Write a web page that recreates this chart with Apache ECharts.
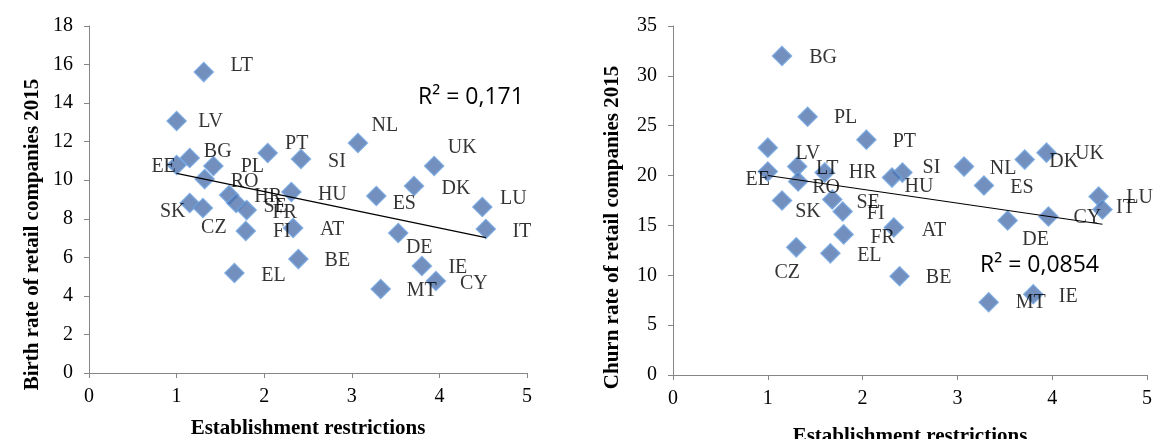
<!DOCTYPE html>
<html>
<head>
<meta charset="utf-8">
<script src="https://cdn.jsdelivr.net/npm/echarts@6/dist/echarts.min.js"></script>
<style>html,body{margin:0;padding:0;background:#fff}#c{width:1155px;height:439px}</style>
</head>
<body>
<div id="c"></div>
<script>
// ---- data ----
const countries = ['LT','LV','BG','PL','EE','RO','PT','SI','NL','HR','SE','FR','SK','CZ','HU','ES','DK','UK','LU','IT','FI','AT','DE','BE','EL','IE','CY','MT'];
const restrictions = [1.31,1.00,1.15,1.42,1.00,1.32,2.04,2.42,3.07,1.60,1.68,1.80,1.15,1.30,2.31,3.28,3.71,3.94,4.49,4.53,1.79,2.33,3.53,2.39,1.66,3.80,3.96,3.33];
const birthRate = [15.61,13.07,11.15,10.74,10.79,10.06,11.41,11.10,11.93,9.23,8.82,8.45,8.82,8.56,9.39,9.18,9.70,10.74,8.61,7.47,7.37,7.52,7.26,5.91,5.19,5.55,4.77,4.36];
const churnRate = [20.9,22.8,32.0,25.9,20.4,19.4,23.6,20.3,20.9,20.3,17.6,14.1,17.5,12.8,19.8,19.0,21.6,22.3,17.9,16.6,16.4,14.8,15.5,9.9,12.2,8.1,15.9,7.3];
const xTicks = [0,1,2,3,4,5];
const birthTicks = [0,2,4,6,8,10,12,14,16,18];
const churnTicks = [0,5,10,15,20,25,30,35];
const r2Birth = 'R² = 0,171';
const r2Churn = 'R² = 0,0854';

// ---- label placement (style only) ----
const offBirth = {LT:[38,-6],LV:[34,1],BG:[28,-6],PL:[39,1],EE:[-13,2],RO:[40,3],PT:[29,-9],SI:[36,3],NL:[27,-17],HR:[39,2],SE:[39,4],FR:[38,3],SK:[-17,9],CZ:[11,20],HU:[41,3],ES:[28,8],DK:[42,3],UK:[28,-18],LU:[31,-8],IT:[36,3],FI:[36,1],AT:[39,2],DE:[21,15],BE:[39,2],EL:[39,3],IE:[36,2],CY:[38,3],MT:[41,2]};
const offChurn = {BG:[41,2],PL:[38,1],PT:[38,2],LV:[40,6],EE:[-10,8],LT:[30,2],RO:[28,6],HR:[38,0],HU:[27,9],SI:[29,-5],SK:[26,11],SE:[36,3],FI:[33,2],FR:[39,3],EL:[39,2],CZ:[-9,25],AT:[40,3],BE:[39,1],MT:[42,1],IE:[35,3],DE:[28,19],NL:[39,2],ES:[38,2],DK:[39,2],UK:[43,1],LU:[41,1],IT:[23,-2],CY:[39,1]};

function pts(ys, offs){
  return countries.map((c,i)=>({value:[restrictions[i], ys[i]], name:c, label:{offset:offs[c]}}));
}
function trend(ys){
  const n = restrictions.length;
  let sx=0,sy=0,sxx=0,sxy=0;
  for(let i=0;i<n;i++){sx+=restrictions[i];sy+=ys[i];sxx+=restrictions[i]*restrictions[i];sxy+=restrictions[i]*ys[i];}
  const b=(n*sxy-sx*sy)/(n*sxx-sx*sx), a=(sy-b*sx)/n;
  const mn=Math.min(...restrictions), mx=Math.max(...restrictions);
  return [[mn,a+b*mn],[mx,a+b*mx]];
}

const serif = '"Liberation Serif","Times New Roman",serif';
const axisCol = '#868686';
function xAx(idx, gap){
  return {gridIndex:idx, type:'value', min:xTicks[0], max:xTicks[xTicks.length-1], interval:1,
    name:'Establishment restrictions', nameLocation:'middle', nameGap:gap,
    nameTextStyle:{fontFamily:serif, fontWeight:'bold', fontSize:21, color:'#000'},
    axisLine:{show:true, onZero:false, lineStyle:{color:axisCol}}, axisTick:{show:true, length:5, lineStyle:{color:axisCol}},
    axisLabel:{fontFamily:serif, fontSize:20, color:'#000', margin:14}, splitLine:{show:false}};
}
function yAx(idx, ticks, name, gap, pad){
  return {gridIndex:idx, type:'value', min:ticks[0], max:ticks[ticks.length-1], interval:ticks[1]-ticks[0],
    name:name, nameLocation:'middle', nameGap:gap,
    nameTextStyle:{fontFamily:serif, fontWeight:'bold', fontSize:21, color:'#000', padding:[0,pad,0,0]},
    axisLine:{show:true, lineStyle:{color:axisCol}}, axisTick:{show:true, length:5, lineStyle:{color:axisCol}},
    axisLabel:{fontFamily:serif, fontSize:20, color:'#000', margin:16}, splitLine:{show:false}};
}
const markerStyle = {color:'#4F73AE', borderColor:'#6FA3DE', borderWidth:1.5};
const lbl = {show:true, position:'inside', formatter:p=>p.name, fontFamily:serif, fontSize:20, color:'#000'};

const chart = echarts.init(document.getElementById('c'));
chart.setOption({
  animation:false,
  grid:[{left:89, top:26, width:438, height:347, outerBoundsMode:'none', containLabel:false},
        {left:673, top:26, width:474, height:349, outerBoundsMode:'none', containLabel:false}],
  xAxis:[xAx(0,45), xAx(1,51)],
  yAxis:[yAx(0,birthTicks,'Birth rate of retail companies 2015',46,70), yAx(1,churnTicks,'Churn rate of retail companies 2015',50,54)],
  series:[
    {type:'line', xAxisIndex:0, yAxisIndex:0, data:trend(birthRate), symbol:'none', lineStyle:{color:'#000', width:1.2}, z:3},
    {type:'line', xAxisIndex:1, yAxisIndex:1, data:trend(churnRate), symbol:'none', lineStyle:{color:'#000', width:1.2}, z:3},
    {type:'scatter', xAxisIndex:0, yAxisIndex:0, symbol:'diamond', symbolSize:19, itemStyle:markerStyle, label:lbl, data:pts(birthRate, offBirth), z:2},
    {type:'scatter', xAxisIndex:1, yAxisIndex:1, symbol:'diamond', symbolSize:19, itemStyle:markerStyle, label:lbl, data:pts(churnRate, offChurn), z:2}
  ],
  graphic:[
    {type:'text', left:418, top:86, style:{text:r2Birth, font:'23px "Open Sans","Liberation Sans",sans-serif', fill:'#000'}},
    {type:'text', left:980, top:254, style:{text:r2Churn, font:'23px "Open Sans","Liberation Sans",sans-serif', fill:'#000'}}
  ]
});
</script>
</body>
</html>
